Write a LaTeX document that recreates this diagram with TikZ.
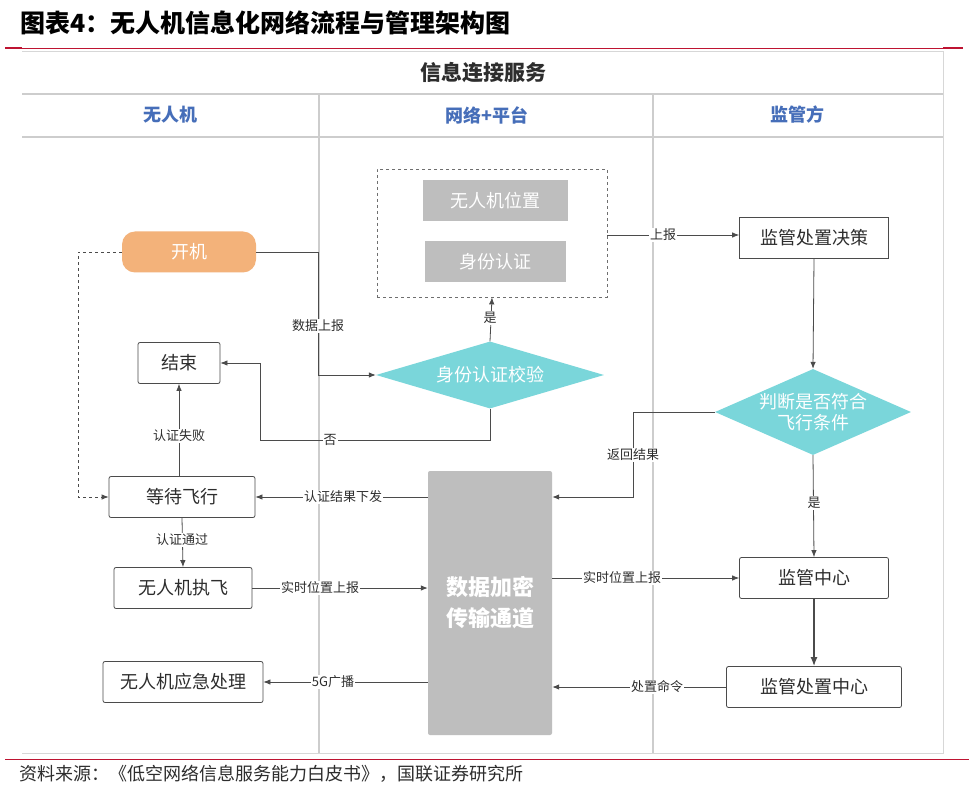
\documentclass[tikz,border=0pt]{standalone}
\usepackage{fontspec}
\setmainfont{Noto Sans CJK SC}
\usetikzlibrary{shapes.geometric,arrows.meta}
\definecolor{redc}{RGB}{190,20,50}
\definecolor{framec}{RGB}{215,215,215}
\definecolor{headc}{RGB}{70,110,185}
\definecolor{linec}{RGB}{75,75,75}
\definecolor{txt}{RGB}{45,45,45}
\definecolor{orangec}{RGB}{243,178,122}
\definecolor{cyanc}{RGB}{122,214,218}
\definecolor{grayc}{RGB}{190,190,190}
\definecolor{colc}{RGB}{205,205,205}
\tikzset{
  wbox/.style={draw=linec, line width=0.8pt, rounded corners=2pt, fill=white, text=txt,
    minimum height=41pt, inner sep=0pt, font=\fontsize{18}{20}\selectfont},
  gbox/.style={fill=grayc, text=white, minimum height=41pt, inner sep=0pt,
    font=\fontsize{18}{20}\selectfont},
  dia/.style={diamond, fill=cyanc, text=white, inner sep=0pt, align=center,
    font=\fontsize{18}{21}\selectfont},
  lab/.style={fill=white, inner sep=1pt, text=txt, font=\fontsize{13}{14}\selectfont},
  arr/.style={draw=linec, line width=0.8pt, -{Latex[length=7pt,width=5.5pt]}},
  ln/.style={draw=linec, line width=0.8pt},
}
\begin{document}
\begin{tikzpicture}[x=1pt,y=-1pt]
\useasboundingbox (0,0) rectangle (969,791);
\fill[white] (0,0) rectangle (969,791);
% title
\node[anchor=west, inner sep=0, font=\fontsize{25}{27}\selectfont\bfseries, text=black] (title) at (20,23) {图表4：无人机信息化网络流程与管理架构图};
\draw[redc, line width=0.8pt] (5,48) -- (963,48);
\draw[redc, line width=2pt] (5,48) -- (22,48);
\draw[redc, line width=2pt] (943,48) -- (963,48);
% frame
\draw[framec, line width=1pt] (22,52) -- (943,52) -- (943,753) -- (22,753);
\draw[colc, line width=1.2pt] (22,94) -- (943,94);
\draw[colc, line width=1.2pt] (22,137) -- (943,137);
\draw[colc, line width=1.2pt] (319,94) -- (319,753);
\draw[colc, line width=1.2pt] (653,94) -- (653,753);
\node[font=\fontsize{21}{23}\selectfont\bfseries, text=txt] (hdr) at (483,73) {信息连接服务};
\node[font=\fontsize{18}{20}\selectfont\bfseries, text=headc] (h1) at (170,115) {无人机};
\node[font=\fontsize{18}{20}\selectfont\bfseries, text=headc] (h2) at (487,115) {网络+平台};
\node[font=\fontsize{18}{20}\selectfont\bfseries, text=headc] (h3) at (797,115) {监管方};
% footer
\draw[redc, line width=1pt] (5,759) -- (969,759);
\node[anchor=west, inner sep=0, font=\fontsize{18}{20}\selectfont, text=txt] (foot) at (19,774) {资料来源：《低空网络信息服务能力白皮书》，国联证券研究所};

% nodes
\node[fill=orangec, rounded corners=13pt, minimum width=134pt, minimum height=41pt, inner sep=0, text=white, font=\fontsize{18}{20}\selectfont] (on) at (189,252) {开机};
\node[draw=linec!80, dashed, line width=0.8pt, minimum width=230pt, minimum height=128pt, inner sep=0] (grp) at (492,233) {};
\node[gbox, minimum width=145pt] (pos) at (495,201) {无人机位置};
\node[gbox, minimum width=141pt] (idc) at (495,262) {身份认证};
\node[dia, aspect=3.4, minimum width=228pt, minimum height=67pt] (chk) at (490,375) {身份认证校验};
\node[wbox, minimum width=82pt] (end) at (179,363) {结束};
\node[wbox, minimum width=146pt] (wait) at (182,497) {等待飞行};
\node[wbox, minimum width=138pt] (fly) at (183,588) {无人机执飞};
\node[wbox, minimum width=160pt] (emg) at (183,682) {无人机应急处理};
\node[fill=grayc, rounded corners=2pt, minimum width=124pt, minimum height=264pt, inner sep=0, text=white, align=center, font=\fontsize{22}{31}\selectfont\bfseries] (chan) at (490,603) {数据加密\\传输通道};
\node[wbox, minimum width=149pt, rounded corners=0pt] (dec) at (814,238) {监管处置决策};
\node[dia, aspect=2.3, minimum width=196pt, minimum height=86pt] (judge) at (813,412) {判断是否符合\\飞行条件};
\node[wbox, minimum width=149pt] (ctr) at (814,578) {监管中心};
\node[wbox, minimum width=175pt] (dctr) at (814,687) {监管处置中心};

% connectors
\coordinate (c1) at (318,252);
\coordinate (c2) at (318,375);
\draw[arr] (on.east) -- (c1) -- (c2) -- (chk.west);
\node[lab] (l1) at (318,326) {数据上报};

\coordinate (d1) at (78,252);
\coordinate (d2) at (78,497);
\draw[arr, dashed] (on.west) -- (d1) -- (d2) -- (wait.west);

\draw[arr] (chk.north) -- (grp.south);
\node[lab] (l2) at (490,318) {是};

\coordinate (n1) at (490,440);
\coordinate (n2) at (260,440);
\coordinate (n3) at (260,363);
\draw[arr] (chk.south) -- (n1) -- (n2) -- (n3) -- (end.east);
\node[lab] (l3) at (330,440) {否};

\draw[arr] (grp.east |- 0,235) -- (dec.west |- 0,235);
\node[lab] (l4) at (663,235) {上报};

\draw[arr] (dec.south) -- (judge.north);

\coordinate (r1) at (633,412);
\coordinate (r2) at (633,497);
\draw[arr] (judge.west) -- (r1) -- (r2) -- (chan.east |- r2);
\node[lab] (l5) at (633,455) {返回结果};

\draw[arr] (judge.south) -- (ctr.north);
\node[lab] (l6) at (814,503) {是};

\draw[draw=linec, line width=1.4pt, -{Latex[length=9pt,width=7pt]}] (ctr.south) -- (dctr.north);

\draw[arr] (chan.west |- wait) -- (wait.east);
\node[lab] (l7) at (343,497) {认证结果下发};

\draw[arr] (wait.north -| end.south) -- (end.south);
\node[lab] (l8) at (179,436) {认证失败};

\draw[arr] (wait.south) -- (fly.north);
\node[lab] (l9) at (182,540) {认证通过};

\draw[arr] (fly.east) -- (chan.west |- fly);
\node[lab] (l10) at (320,588) {实时位置上报};

\draw[arr] (chan.east |- ctr) -- (ctr.west);
\node[lab] (l11) at (622,578) {实时位置上报};

\draw[arr] (dctr.west) -- (chan.east |- dctr);
\node[lab] (l12) at (657,687) {处置命令};

\draw[arr] (chan.west |- emg) -- (emg.east);
\node[lab] (l13) at (333,682) {5G广播};
\end{tikzpicture}
\end{document}
